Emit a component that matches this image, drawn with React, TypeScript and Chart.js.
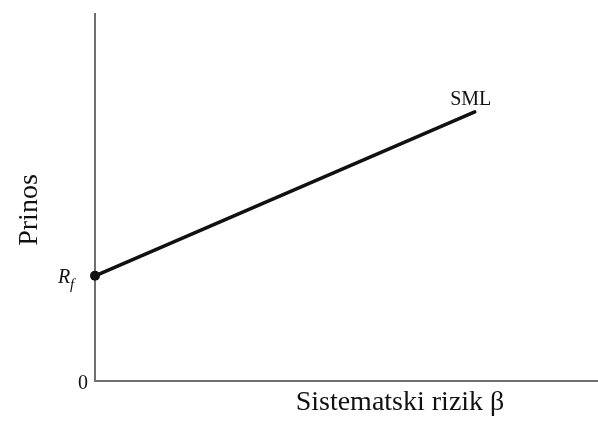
import React, { useEffect, useRef } from "react";
import { Chart, registerables } from "chart.js";

Chart.register(...registerables);

// Data
const betaValues = [0, 1.51];
const returnValues = [4.3, 11.0];
const riskFreeRate = 4.3;
const xRange = [0, 2];
const yRange = [0, 15];
const lineLabel = "SML";
const xTitle = "Sistematski rizik β";
const yTitle = "Prinos";
const zeroLabel = "0";

const labelsPlugin = {
  id: "smlLabels",
  afterDraw(chart: any) {
    const { ctx, scales } = chart;
    const xs = scales.x;
    const ys = scales.y;
    ctx.save();
    ctx.fillStyle = "#111";
    // SML label near end of line
    const ex = xs.getPixelForValue(betaValues[betaValues.length - 1]);
    const ey = ys.getPixelForValue(returnValues[returnValues.length - 1]);
    ctx.font = "20px 'Liberation Serif', 'Times New Roman', serif";
    ctx.textAlign = "center";
    ctx.textBaseline = "alphabetic";
    ctx.fillText(lineLabel, ex - 4, ey - 7);

    // R_f label
    const ax = xs.getPixelForValue(0);
    const ry = ys.getPixelForValue(riskFreeRate);
    ctx.font = "italic 20px 'Liberation Serif', 'Times New Roman', serif";
    ctx.textAlign = "left";
    ctx.fillText("R", ax - 37, ry + 7);
    ctx.font = "italic 15px 'Liberation Serif', 'Times New Roman', serif";
    ctx.fillText("f", ax - 25, ry + 13);

    // zero label
    const zy = ys.getPixelForValue(0);
    ctx.font = "20px 'Liberation Serif', 'Times New Roman', serif";
    ctx.textAlign = "center";
    ctx.textBaseline = "middle";
    ctx.fillText(zeroLabel, ax - 12, zy + 3);

    // x title
    ctx.font = "28px 'Liberation Serif', 'Times New Roman', serif";
    ctx.textAlign = "center";
    ctx.textBaseline = "alphabetic";
    ctx.fillText(xTitle, 400, 410);

    // y title
    ctx.translate(37, 210);
    ctx.rotate(-Math.PI / 2);
    ctx.textAlign = "center";
    ctx.fillText(yTitle, 0, 0);
    ctx.restore();
  },
};

export default function App() {
  const ref = useRef<HTMLCanvasElement | null>(null);
  useEffect(() => {
    if (!ref.current) return;
    const chart = new Chart(ref.current, {
      type: "scatter",
      data: {
        datasets: [
          {
            label: lineLabel,
            data: betaValues.map((b, i) => ({ x: b, y: returnValues[i] })),
            showLine: true,
            clip: false,
            borderColor: "#111",
            borderWidth: 3.5,
            pointRadius: [5, 0],
            pointHoverRadius: 0,
            pointBackgroundColor: "#111",
            pointBorderWidth: 0,
            borderCapStyle: "round",
          },
        ],
      },
      options: {
        responsive: false,
        animation: false,
        events: [],
        layout: { autoPadding: false, padding: { left: 95, top: 14, right: 0, bottom: 43 } },
        plugins: { legend: { display: false }, tooltip: { enabled: false } },
        scales: {
          x: {
            type: "linear",
            min: xRange[0],
            max: xRange[1],
            grid: { display: false, drawTicks: false, tickLength: 0 },
            ticks: { display: false },
            border: { display: true, color: "#6f6f6f", width: 2 },
          },
          y: {
            type: "linear",
            min: yRange[0],
            max: yRange[1],
            grid: { display: false, drawTicks: false, tickLength: 0 },
            ticks: { display: false },
            border: { display: true, color: "#6f6f6f", width: 2 },
          },
        },
      },
      plugins: [labelsPlugin],
    });
    return () => chart.destroy();
  }, []);
  return (
    <div style={{ position: "fixed", left: 0, top: 0, width: 598, height: 424, background: "#fff" }}>
      <canvas ref={ref} width={598} height={424} style={{ width: 598, height: 424, display: "block" }} />
    </div>
  );
}
